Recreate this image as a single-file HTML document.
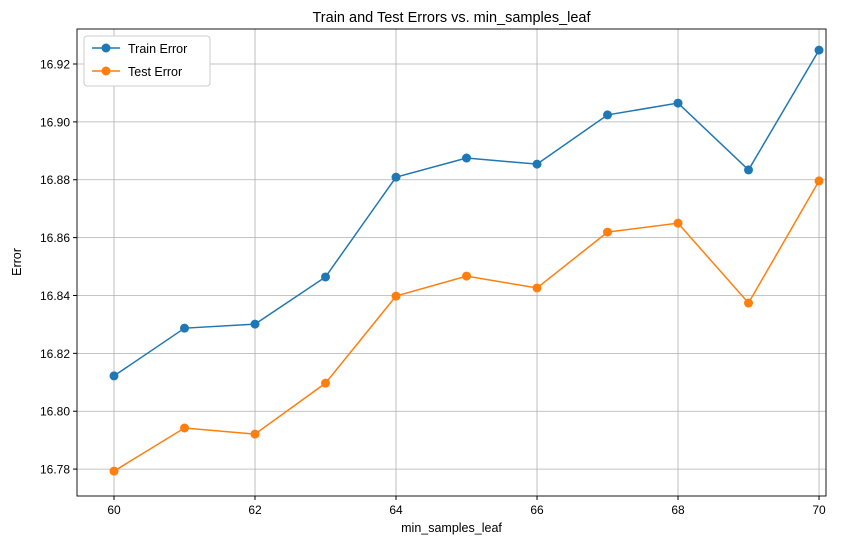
<!DOCTYPE html>
<html><head><meta charset="utf-8"><style>
body{margin:0;background:#fff}
svg{font-family:"Liberation Sans","DejaVu Sans",sans-serif}
</style></head><body>
<svg id="chart" width="864" height="545">
<text x="451.5" y="22" text-anchor="middle" font-size="14.5">Train and Test Errors vs. min_samples_leaf</text>
<g id="grid"></g>
<g id="axes"></g>
<g id="series"></g>
<rect x="77" y="29" width="749" height="467" fill="none" stroke="#000" stroke-width="0.9"/>
<text x="451.5" y="532" text-anchor="middle" font-size="12.5">min_samples_leaf</text>
<text x="0" y="0" transform="translate(21,262) rotate(-90)" text-anchor="middle" font-size="12.5">Error</text>
<g>
<rect x="84" y="36" width="126" height="50" rx="3" fill="#fff" stroke="#ccc"/>
<g>
<line x1="92" y1="48" x2="120" y2="48" stroke="#1f77b4" stroke-width="1.5"/><circle cx="106" cy="48" r="4.5" fill="#1f77b4"/>
<text x="128" y="53" font-size="12.5">Train Error</text></g>
<g>
<line x1="92" y1="71" x2="120" y2="71" stroke="#ff7f0e" stroke-width="1.5"/><circle cx="106" cy="71" r="4.5" fill="#ff7f0e"/>
<text x="128" y="76" font-size="12.5">Test Error</text></g>
</g>
</svg>
<script>
const categories=[60,61,62,63,64,65,66,67,68,69,70];
const trainValues=[16.8122,16.8287,16.8301,16.8464,16.8809,16.8875,16.8854,16.9024,16.9065,16.8834,16.9248];
const testValues=[16.7793,16.7942,16.7921,16.8097,16.8398,16.8467,16.8426,16.8619,16.8650,16.8374,16.8796];
const xTicks=[60,62,64,66,68,70];
const yTicks=[16.78,16.80,16.82,16.84,16.86,16.88,16.90,16.92];
const X0=77,X1=826,Y0=29,Y1=496,xMin=59.475,xMax=70.099,yMin=16.7707,yMax=16.9321;
const sx=v=>X0+(v-xMin)/(xMax-xMin)*(X1-X0);
const sy=v=>Y1-(v-yMin)/(yMax-yMin)*(Y1-Y0);
const NS="http://www.w3.org/2000/svg";
function mk(t,a,p){const e=document.createElementNS(NS,t);for(const k in a)e.setAttribute(k,a[k]);p.appendChild(e);return e;}
const grid=document.getElementById('grid'),axes=document.getElementById('axes'),ser=document.getElementById('series');
xTicks.forEach(t=>{const x=sx(t);
const g=mk('line',{x1:x,x2:x,y1:Y0,y2:Y1,stroke:'#b0b0b0','stroke-width':0.8},grid);


mk('line',{x1:x,x2:x,y1:Y1,y2:Y1+4,stroke:'#000'},axes);
const l=mk('text',{x:x,y:Y1+18,'text-anchor':'middle','font-size':12},axes);l.textContent=t;

});
yTicks.forEach(t=>{const y=sy(t);
const g=mk('line',{x1:X0,x2:X1,y1:y,y2:y,stroke:'#b0b0b0','stroke-width':0.8},grid);


mk('line',{x1:X0-4,x2:X0,y1:y,y2:y,stroke:'#000'},axes);
const l=mk('text',{x:X0-7,y:y+4.5,'text-anchor':'end','font-size':12},axes);l.textContent=t.toFixed(2);

});
function draw(vals,col,name){
const pl=mk('polyline',{points:vals.map((v,i)=>sx(categories[i])+','+sy(v)).join(' '),fill:'none',stroke:col,'stroke-width':1.5},ser);


vals.forEach((v,i)=>{const c=mk('circle',{cx:sx(categories[i]),cy:sy(v),r:4.5,fill:col},ser);

});}
draw(trainValues,'#1f77b4','train-error');
draw(testValues,'#ff7f0e','test-error');
</script>
</body></html>
